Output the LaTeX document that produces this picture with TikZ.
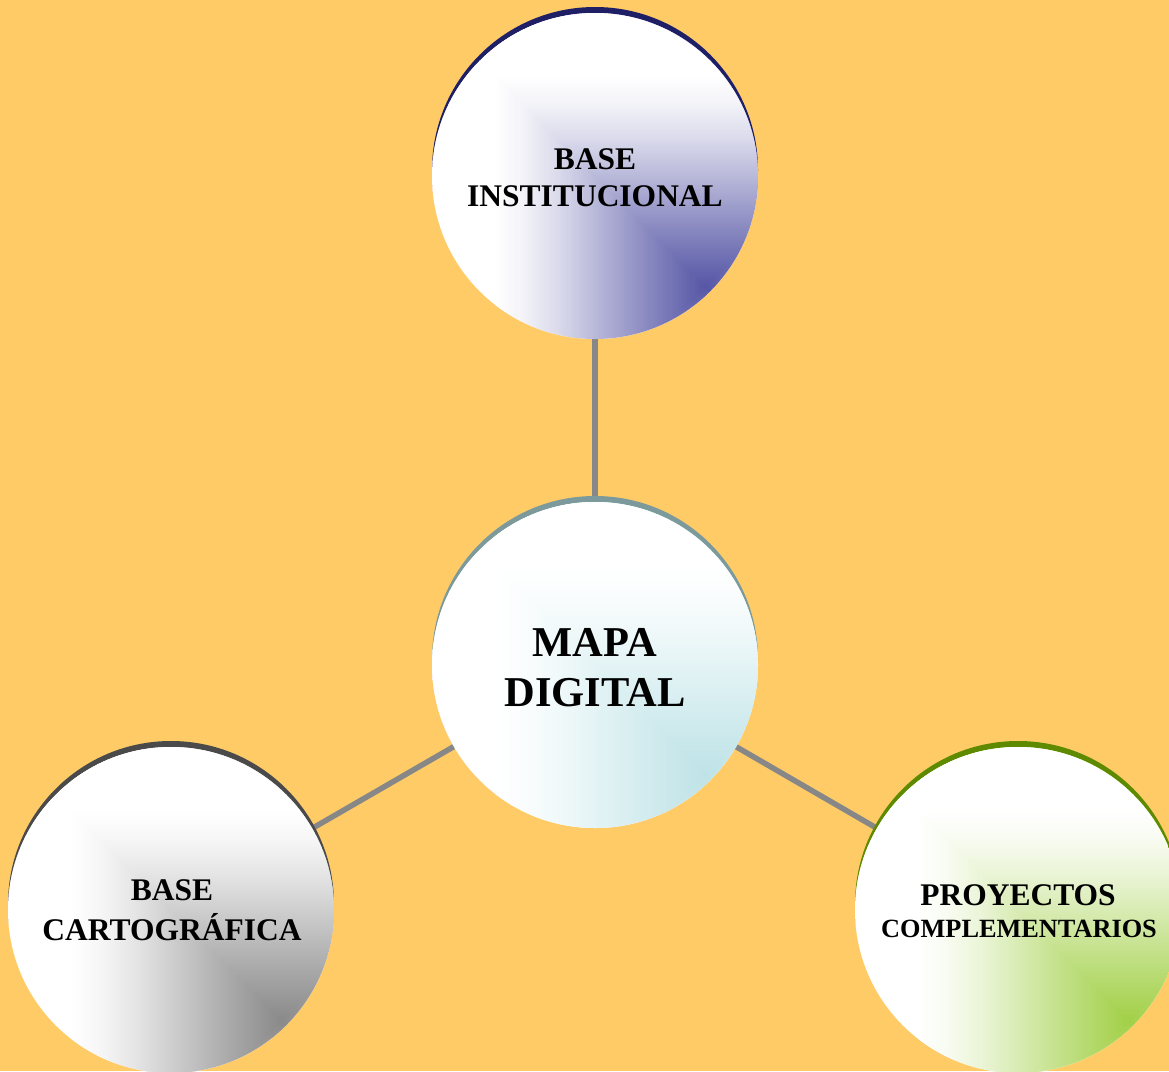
\documentclass[tikz,border=0pt]{standalone}
\usepackage{fontspec}
\setmainfont{Liberation Serif}
\usetikzlibrary{calc}
\definecolor{bg}{HTML}{FFCB66}
\definecolor{topdark}{HTML}{1F1F66}
\definecolor{topfocal}{HTML}{5656A6}
\definecolor{ctrdark}{HTML}{7C9A9C}
\definecolor{ctrfocal}{HTML}{BEE3E7}
\definecolor{leftdark}{HTML}{4A4A4A}
\definecolor{leftfocal}{HTML}{8A8A8A}
\definecolor{rightdark}{HTML}{5E8A00}
\definecolor{rightfocal}{HTML}{A2D048}
\definecolor{connc}{HTML}{878787}
\colorlet{bubcol}{topfocal}
\pgfdeclarehorizontalshading[bubcol]{bubh}{100bp}{color(0bp)=(white); color(25bp)=(white);
  color(28.25bp)=(bubcol!7!white); color(32.5bp)=(bubcol!22!white); color(38.75bp)=(bubcol!50!white);
  color(44.5bp)=(bubcol!76!white); color(50bp)=(bubcol);
  color(55.5bp)=(bubcol!76!white); color(61.25bp)=(bubcol!50!white); color(67.5bp)=(bubcol!22!white);
  color(71.75bp)=(bubcol!7!white); color(75bp)=(white); color(100bp)=(white)}
\pgfdeclareverticalshading[bubcol]{bubv}{100bp}{color(0bp)=(white); color(25bp)=(white);
  color(28.25bp)=(bubcol!7!white); color(32.5bp)=(bubcol!22!white); color(38.75bp)=(bubcol!50!white);
  color(44.5bp)=(bubcol!76!white); color(50bp)=(bubcol);
  color(55.5bp)=(bubcol!76!white); color(61.25bp)=(bubcol!50!white); color(67.5bp)=(bubcol!22!white);
  color(71.75bp)=(bubcol!7!white); color(75bp)=(white); color(100bp)=(white)}
\newcommand\drawbubble[3]{%
  \fill[#2] ($(#1)+(0,-6)$) circle[radius=163pt];
  \colorlet{bubcol}{#3}%
  \begin{scope}
    \clip (#1) circle[radius=163pt];
    \fill[white] (#1) circle[radius=166pt];
    \shade[shading=bubh] ($(#1)+(110-210,-170)$) rectangle ($(#1)+(110+210,170)$);
    \fill[white] ($(#1)+(-170,-170)$) rectangle ($(#1)+(170,110-210)$);
    \begin{scope}[blend mode=lighten]
      \shade[shading=bubv] ($(#1)+(-170,110-210)$) rectangle ($(#1)+(170,110+210)$);
    \end{scope}
  \end{scope}}
\tikzset{
  conn/.style={draw=connc,line width=5.5pt},
  lbl/.style={anchor=base,inner sep=0pt,text=black},
  lblmid/.style={lbl,font=\bfseries\fontsize{31.5}{37}\selectfont},
  lblbig/.style={lbl,font=\bfseries\fontsize{42.5}{50}\selectfont},
  lblsmall/.style={lbl,font=\bfseries\fontsize{26.3}{31}\selectfont}
}
\begin{document}
\begin{tikzpicture}[x=1pt,y=-1pt]
\useasboundingbox (0,0) rectangle (1169,1071);
\fill[bg] (0,0) rectangle (1169,1071);
\clip (0,0) rectangle (1169,1071);
\coordinate (top) at (595,176);
\coordinate (ctr) at (595,665);
\coordinate (left) at (171,910);
\coordinate (right) at (1018,910);
\draw[conn] (top) -- (ctr);
\draw[conn] (left) -- (ctr);
\draw[conn] (right) -- (ctr);
\drawbubble{top}{topdark}{topfocal}
\drawbubble{ctr}{ctrdark}{ctrfocal}
\drawbubble{left}{leftdark}{leftfocal}
\drawbubble{right}{rightdark}{rightfocal}
\node[lblmid] (t1) at (595,169) {BASE};
\node[lblmid] (t2) at (595,206) {INSTITUCIONAL};
\node[lblbig] (c1) at (595,656) {MAPA};
\node[lblbig] (c2) at (595,706) {DIGITAL};
\node[lblmid] (l1) at (172,900) {BASE};
\node[lblmid] (l2) at (172,940) {CARTOGRÁFICA};
\node[lblmid] (r1) at (1018,905) {PROYECTOS};
\node[lblsmall] (r2) at (1019,937) {COMPLEMENTARIOS};
\end{tikzpicture}
\end{document}
